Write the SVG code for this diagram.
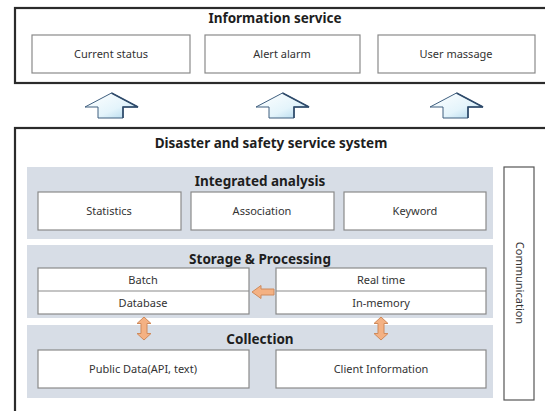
<svg xmlns="http://www.w3.org/2000/svg" width="545" height="411" viewBox="0 0 545 411">
<defs>
<linearGradient id="blueFill" x1="0" y1="0" x2="1" y2="1">
<stop offset="0" stop-color="#ffffff"/>
<stop offset="0.6" stop-color="#e4f4fb"/>
<stop offset="1" stop-color="#a9d3ea"/>
</linearGradient>
<style>
.outer{fill:#ffffff;stroke:#2b2b2b;stroke-width:2.2}
.box{fill:#ffffff;stroke:#8a8a8a;stroke-width:1.2}
.panel{fill:#d7dde6;stroke:none}
.title{font-family:"Noto Sans","Open Sans",sans-serif;font-weight:bold;font-size:13.5px;fill:#1e1e1e;text-anchor:middle}
.label{font-family:"Noto Sans","Open Sans",sans-serif;font-size:11px;fill:#333333;text-anchor:middle}
.up{fill:url(#blueFill);stroke:#3f5f7f;stroke-width:1}
.orange{fill:#f4b183;stroke:#cf8a5c;stroke-width:1}
</style>
</defs>
<rect width="545" height="411" fill="#ffffff"/>

<g id="information-service">
<rect class="outer" x="15" y="8" width="540" height="75"/>
<text class="title" x="275" y="23">Information service</text>
<g id="current-status"><rect class="box" x="32" y="35" width="158" height="38"/><text class="label" x="111" y="58">Current status</text></g>
<g id="alert-alarm"><rect class="box" x="205" y="35" width="155" height="38"/><text class="label" x="282" y="58">Alert alarm</text></g>
<g id="user-massage"><rect class="box" x="378" y="35" width="157" height="38"/><text class="label" x="456" y="58">User massage</text></g>
</g>

<g id="disaster-system">
<rect class="outer" x="15" y="128" width="540" height="300"/>
<text class="title" x="271" y="148">Disaster and safety service system</text>
</g>

<g id="integrated-analysis">
<rect class="panel" x="27" y="167" width="466" height="72"/>
<text class="title" x="260" y="186">Integrated analysis</text>
<g id="statistics"><rect class="box" x="38" y="192" width="143" height="38"/><text class="label" x="109" y="215">Statistics</text></g>
<g id="association"><rect class="box" x="191" y="192" width="143" height="38"/><text class="label" x="262" y="215">Association</text></g>
<g id="keyword"><rect class="box" x="344" y="192" width="142" height="38"/><text class="label" x="415" y="215">Keyword</text></g>
</g>

<g id="storage-processing">
<rect class="panel" x="27" y="245" width="466" height="73"/>
<text class="title" x="260" y="264">Storage &amp; Processing</text>
<g id="batch-database">
<rect class="box" x="38" y="268" width="211" height="46"/>
<line x1="38" y1="291" x2="249" y2="291" stroke="#8a8a8a" stroke-width="1.2"/>
<text class="label" x="143" y="284">Batch</text>
<text class="label" x="143" y="307">Database</text>
</g>
<g id="realtime-inmemory">
<rect class="box" x="276" y="268" width="210" height="46"/>
<line x1="276" y1="291" x2="486" y2="291" stroke="#8a8a8a" stroke-width="1.2"/>
<text class="label" x="381" y="284">Real time</text>
<text class="label" x="381" y="307">In-memory</text>
</g>
</g>

<g id="collection">
<rect class="panel" x="27" y="325" width="466" height="73"/>
<text class="title" x="260" y="344">Collection</text>
<g id="public-data"><rect class="box" x="38" y="350" width="211" height="38"/><text class="label" x="143" y="373">Public Data(API, text)</text></g>
<g id="client-information"><rect class="box" x="276" y="350" width="210" height="38"/><text class="label" x="381" y="373">Client Information</text></g>
</g>

<g id="communication">
<rect x="504" y="167" width="30" height="233" fill="#ffffff" stroke="#555555" stroke-width="1.2"/>
<text class="label" x="0" y="0" transform="translate(515.5,283) rotate(90)">Communication</text>
</g>

<g id="connectors">
<path class="up" d="M111.5,93 L138,107 L123,107 L123,118 L98,118 L98,107 L85,107 Z"/>
<path d="M111.5,93 L138,107 L123,107 L123,118" fill="none" stroke="#2e4a6a" stroke-width="1.6"/>
<path class="up" d="M282.5,93 L309,107 L294,107 L294,118 L269,118 L269,107 L256,107 Z"/>
<path d="M282.5,93 L309,107 L294,107 L294,118" fill="none" stroke="#2e4a6a" stroke-width="1.6"/>
<path class="up" d="M456.5,93 L483,107 L468,107 L468,118 L443,118 L443,107 L430,107 Z"/>
<path d="M456.5,93 L483,107 L468,107 L468,118" fill="none" stroke="#2e4a6a" stroke-width="1.6"/>
<path class="orange" d="M252,292 L261,285.5 L261,289 L274,289 L274,295 L261,295 L261,298.5 Z"/>
<path class="orange" d="M144,317 L151,323.5 L147,323.5 L147,333.5 L151,333.5 L144,340 L137,333.5 L141,333.5 L141,323.5 L137,323.5 Z"/>
<path class="orange" d="M381,317 L388,323.5 L384,323.5 L384,333.5 L388,333.5 L381,340 L374,333.5 L378,333.5 L378,323.5 L374,323.5 Z"/>
</g>
</svg>
